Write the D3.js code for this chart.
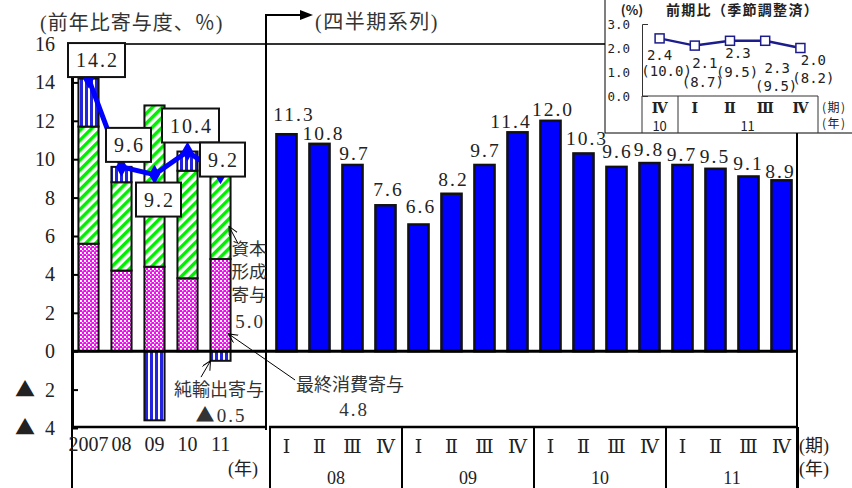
<!DOCTYPE html>
<html><head><meta charset="utf-8">
<script src="https://cdn.jsdelivr.net/npm/d3@7"></script>
<style>body{margin:0;background:#fff}svg{display:block}</style>
</head><body><svg id="c" width="852" height="488"></svg>
<script>
// ---- data ----
const years = ["2007", "08", "09", "10", "11"];
const consumption = [5.6, 4.2, 4.4, 3.8, 4.8];
const capital = [6.1, 4.6, 8.4, 5.6, 5.0];
const netExports = [2.5, 0.8, -3.6, 1.0, -0.5];
const totalGrowth = [14.2, 9.6, 9.2, 10.4, 9.2];
const quarters = ["Ⅰ", "Ⅱ", "Ⅲ", "Ⅳ"];
const quarterYears = ["08", "09", "10", "11"];
const quarterlyGrowth = [11.3, 10.8, 9.7, 7.6, 6.6, 8.2, 9.7, 11.4, 12.0, 10.3, 9.6, 9.8, 9.7, 9.5, 9.1, 8.9];
const yTicks = [-4, -2, 0, 2, 4, 6, 8, 10, 12, 14, 16];
const insetQuarters = ["Ⅳ", "Ⅰ", "Ⅱ", "Ⅲ", "Ⅳ"];
const insetYears = ["10", "11"];
const insetQoQ = [2.4, 2.1, 2.3, 2.3, 2.0];
const insetYoY = [10.0, 8.7, 9.5, 9.5, 8.2];
const insetTicks = [0, 1, 2, 3];

// ---- layout (label placement, not data) ----
const qLabelGap = [13, 4, 5, 9, 11, 8, 8, 4, 5, 8, 9, 7, 4, 6, 6, 2];
const qLabelDx = [6.5, 3, 1, 2, 1.5, 1, 0, -7.5, 1.5, 2.5, 0, -1.5, -1.5, -1.5, -1, -2];

const SERIF = "'Liberation Serif','DejaVu Serif','Noto Sans CJK JP',serif";
const MONO = "'DejaVu Sans Mono','Noto Sans CJK JP',monospace";
const SANS = "'Noto Sans CJK JP','DejaVu Sans',sans-serif";
const svg = d3.select("#c");
const defs = svg.append("defs");

// patterns
const pk = defs.append("pattern").attr("id", "pinkChk").attr("patternUnits", "userSpaceOnUse").attr("width", 4).attr("height", 4);
pk.append("rect").attr("width", 4).attr("height", 4).attr("fill", "#ff00ff");
pk.append("rect").attr("x", 0).attr("y", 0).attr("width", 2).attr("height", 2).attr("fill", "#fff");
pk.append("rect").attr("x", 2).attr("y", 2).attr("width", 1.4).attr("height", 1.4).attr("fill", "#fff");
const gh = defs.append("pattern").attr("id", "greenHatch").attr("patternUnits", "userSpaceOnUse").attr("width", 7).attr("height", 7).attr("patternTransform", "rotate(45)");
gh.append("rect").attr("width", 7).attr("height", 7).attr("fill", "#fff");
gh.append("rect").attr("width", 3.5).attr("height", 7).attr("fill", "#00ee00");
const bs = defs.append("pattern").attr("id", "blueStripe").attr("patternUnits", "userSpaceOnUse").attr("width", 5).attr("height", 5);
bs.append("rect").attr("width", 5).attr("height", 5).attr("fill", "#fff");
bs.append("rect").attr("width", 3).attr("height", 5).attr("fill", "#2424dd");
defs.append("marker").attr("id", "openArrow").attr("markerUnits", "userSpaceOnUse")
  .attr("markerWidth", 12).attr("markerHeight", 12).attr("refX", 9).attr("refY", 4.5).attr("orient", "auto")
  .append("path").attr("d", "M0,0L9,4.5L0,9").attr("fill", "none").attr("stroke", "#000").attr("stroke-width", 1);

const y = d3.scaleLinear().domain([-4, 16]).range([428, 44]);
const xY = d3.scaleBand().domain(years).range([72, 237]).paddingInner(0.39).paddingOuter(0.195);
const qKeys = quarterYears.flatMap(yy => quarters.map((q, i) => yy + "-" + i));
const xQ = d3.scaleBand().domain(qKeys).range([270, 798]).paddingInner(0.39).paddingOuter(0.195);
const bwY = xY.bandwidth(), bwQ = xQ.bandwidth();

// helper: text with a CJK-font triangle
function triText(sel, num) {
  sel.append("tspan").attr("font-family", SANS).text("▲");
  sel.append("tspan").text(num);
}

// frame lines
svg.append("line").attr("x1", 72).attr("x2", 852).attr("y1", 44).attr("y2", 44).attr("stroke", "#333").attr("stroke-width", 2);
svg.append("line").attr("x1", 797).attr("x2", 797).attr("y1", 44).attr("y2", 488).attr("stroke", "#000").attr("stroke-width", 2);
svg.append("line").attr("x1", 72).attr("x2", 72).attr("y1", 427).attr("y2", 488).attr("stroke", "#000").attr("stroke-width", 2);
svg.append("line").attr("x1", 72).attr("x2", 266).attr("y1", 427).attr("y2", 427).attr("stroke", "#000").attr("stroke-width", 2.5);
svg.append("line").attr("x1", 269).attr("x2", 797).attr("y1", 427).attr("y2", 427).attr("stroke", "#000").attr("stroke-width", 2.5);
const qDiv = quarterYears.map(yy => xQ(yy + "-0") - xQ.step() * xQ.paddingOuter());
qDiv.push(798);
svg.append("g").selectAll("line").data(qDiv).join("line")
  .attr("x1", d => d).attr("x2", d => d).attr("y1", 427).attr("y2", 488).attr("stroke", "#000").attr("stroke-width", 2);
svg.append("path").attr("d", "M266,430V15H301").attr("fill", "none").attr("stroke", "#000").attr("stroke-width", 2);
svg.append("path").attr("d", "M300,10L313,15L300,20Z").attr("fill", "#000");
svg.append("text").attr("x", 315).attr("y", 29).attr("font-family", SERIF).attr("font-size", 20).attr("letter-spacing", 1.5).attr("fill", "#333").text("(四半期系列)");
svg.append("text").attr("x", 40).attr("y", 30).attr("font-family", SERIF).attr("font-size", 20).attr("letter-spacing", 1).attr("fill", "#333").text("(前年比寄与度、％)");

// annual stacked bars
const annual = years.map((yr, i) => ({ yr, c: consumption[i], k: capital[i], n: netExports[i], t: totalGrowth[i] }));
const segs = [];
annual.forEach(d => {
  segs.push({ yr: d.yr, y0: 0, y1: d.c, fill: "url(#pinkChk)" });
  segs.push({ yr: d.yr, y0: d.c, y1: d.c + d.k, fill: "url(#greenHatch)" });
  if (d.n >= 0) segs.push({ yr: d.yr, y0: d.c + d.k, y1: d.c + d.k + d.n, fill: "url(#blueStripe)" });
  else segs.push({ yr: d.yr, y0: d.n, y1: 0, fill: "url(#blueStripe)" });
});
svg.append("g").selectAll("rect").data(segs).join("rect")
  .attr("x", d => xY(d.yr)).attr("width", bwY)
  .attr("y", d => y(d.y1)).attr("height", d => y(d.y0) - y(d.y1))
  .attr("fill", d => d.fill).attr("stroke", "#111").attr("stroke-width", 2);

// quarterly bars
const qData = qKeys.map((k, i) => ({ k, i, v: quarterlyGrowth[i] }));
svg.append("g").selectAll("rect").data(qData).join("rect")
  .attr("x", d => xQ(d.k)).attr("width", bwQ)
  .attr("y", d => y(d.v)).attr("height", d => y(0) - y(d.v))
  .attr("fill", "#0000ff").attr("stroke", "#111").attr("stroke-width", 2.5);
svg.append("g").selectAll("text").data(qData).join("text")
  .attr("x", d => xQ(d.k) + bwQ / 2 + 1 + qLabelDx[d.i]).attr("y", d => y(d.v) - qLabelGap[d.i])
  .attr("text-anchor", "middle").attr("font-family", SERIF).attr("font-size", 19.5).attr("letter-spacing", 2)
  .attr("fill", "#222").text(d => d.v.toFixed(1));

// zero line
svg.append("line").attr("x1", 72).attr("x2", 797).attr("y1", y(0)).attr("y2", y(0)).attr("stroke", "#000").attr("stroke-width", 3);

// y axis
const yAxis = svg.append("g").attr("transform", "translate(72,0)")
  .call(d3.axisLeft(y).tickValues(yTicks).tickSizeInner(-6).tickSizeOuter(0).tickPadding(17)
    .tickFormat(v => String(Math.abs(v))));
yAxis.select(".domain").attr("stroke", "#000").attr("stroke-width", 3);
yAxis.selectAll(".tick line").attr("stroke", "#000").attr("stroke-width", 2);
yAxis.selectAll("text").attr("font-family", SERIF).attr("font-size", 20).attr("fill", "#222");
yAxis.selectAll(".tick text").each(function (v) {
  if (v < 0) { const t = d3.select(this); t.text(null); triText(t, "\u00a0\u00a0" + (-v)); }
});

// annual x axis
const xAxY = svg.append("g").attr("transform", "translate(0,427)").call(d3.axisBottom(xY).tickSize(0).tickPadding(10));
xAxY.select(".domain").remove();
xAxY.selectAll("text").attr("font-family", SERIF).attr("font-size", 20).attr("fill", "#222");
svg.append("text").attr("x", 258).attr("y", 475).attr("text-anchor", "end").attr("font-family", SERIF).attr("font-size", 18).attr("fill", "#222").text("(年)");

// quarterly x axis
const xAxQ = svg.append("g").attr("transform", "translate(0,427)")
  .call(d3.axisBottom(xQ).tickSize(0).tickPadding(13).tickFormat(k => quarters[+k.split("-")[1]]));
xAxQ.select(".domain").remove();
xAxQ.selectAll("text").attr("font-family", SERIF).attr("font-size", 19).attr("fill", "#222");
svg.append("g").selectAll("text").data(quarterYears).join("text")
  .attr("x", yy => xQ(yy + "-0") - xQ.step() * xQ.paddingOuter() + 2 * xQ.step())
  .attr("y", 484).attr("text-anchor", "middle").attr("font-family", SERIF).attr("font-size", 18).attr("fill", "#222").text(yy => yy);
svg.append("text").attr("x", 799).attr("y", 452).attr("font-family", SERIF).attr("font-size", 18).attr("fill", "#222").text("(期)");
svg.append("text").attr("x", 799).attr("y", 475).attr("font-family", SERIF).attr("font-size", 18).attr("fill", "#222").text("(年)");

// total line
const line = d3.line().x(d => xY(d.yr) + bwY / 2).y(d => y(d.t));
svg.append("path").datum(annual).attr("d", line).attr("fill", "none").attr("stroke", "#0000ff").attr("stroke-width", 5);
svg.append("g").selectAll("path").data(annual).join("path")
  .attr("transform", d => `translate(${xY(d.yr) + bwY / 2},${y(d.t)})`)
  .attr("d", d3.symbol(d3.symbolDiamond, 110)).attr("fill", "#0000ff");

// total label boxes (offsets from the point)
const boxOffsets = [[8, -18.5], [7, -22], [4, 25], [3, -26], [2, -15]];
annual.forEach((d, i) => {
  const g = svg.append("g").attr("transform", `translate(${xY(d.yr) + bwY / 2 + boxOffsets[i][0]},${y(d.t) + boxOffsets[i][1]})`);
  const r = g.append("rect");
  const t = g.append("text").attr("x", 1).attr("y", 7).attr("text-anchor", "middle")
    .attr("font-family", SERIF).attr("font-size", 20).attr("letter-spacing", 2).attr("fill", "#222").text(d.t.toFixed(1));
  const w = t.node().getComputedTextLength() + 14;
  r.attr("x", -w / 2).attr("y", -17).attr("width", w).attr("height", 34).attr("fill", "#fff").attr("stroke", "#111").attr("stroke-width", 2);
});

// annotations
const x11 = xY("11");
const ann = svg.append("g").attr("fill", "#333").attr("font-family", SERIF);
svg.append("line").attr("x1", x11 + bwY + 7.5).attr("y1", y(5.6)).attr("x2", x11 + bwY - 1.5).attr("y2", y(6.5))
  .attr("stroke", "#000").attr("stroke-width", 1).attr("marker-end", "url(#openArrow)");
svg.append("line").attr("x1", x11 + bwY / 2 - 19.5).attr("y1", y(-1.35)).attr("x2", x11 + bwY / 2 - 10).attr("y2", y(-0.5))
  .attr("stroke", "#000").attr("stroke-width", 1).attr("marker-end", "url(#openArrow)");
svg.append("line").attr("x1", x11 + bwY + 64.5).attr("y1", y(-1.5)).attr("x2", x11 + bwY - 2).attr("y2", y(0.9))
  .attr("stroke", "#000").attr("stroke-width", 1).attr("marker-end", "url(#openArrow)");
const capLines = ["資本", "形成", "寄与"];
capLines.forEach((s, i) => ann.append("text").attr("x", 249).attr("y", 255 + i * 23).attr("text-anchor", "middle").attr("font-size", 17.5).text(s));
ann.append("text").attr("x", 250).attr("y", 328).attr("text-anchor", "middle").attr("font-size", 19).attr("letter-spacing", 2).text(capital[4].toFixed(1));
ann.append("text").attr("x", 219).attr("y", 396).attr("text-anchor", "middle").attr("font-size", 18).text("純輸出寄与");
const nxT = ann.append("text").attr("x", 221).attr("y", 422).attr("text-anchor", "middle").attr("font-size", 19).attr("letter-spacing", 2);
triText(nxT, (-netExports[4]).toFixed(1));
ann.append("text").attr("x", 350).attr("y", 391).attr("text-anchor", "middle").attr("font-size", 18).text("最終消費寄与");
ann.append("text").attr("x", 354).attr("y", 416).attr("text-anchor", "middle").attr("font-size", 19).attr("letter-spacing", 2).text(consumption[4].toFixed(1));

// ---- inset ----
const ins = svg.append("g");
ins.append("rect").attr("x", 605).attr("y", -1).attr("width", 250).attr("height", 134).attr("fill", "#fff").attr("stroke", "#000").attr("stroke-width", 1);
const iy = d3.scaleLinear().domain([0, 3]).range([96, 24]);
const ix = d3.scaleBand().domain(d3.range(insetQoQ.length)).range([642, 818]);
ins.append("text").attr("x", 632).attr("y", 15).attr("text-anchor", "middle").attr("font-family", SANS).attr("font-size", 13).attr("font-weight", "bold").attr("fill", "#222").text("(%)");
ins.append("text").attr("x", 666).attr("y", 15).attr("font-family", SANS).attr("font-size", 14).attr("font-weight", "bold").attr("letter-spacing", 1.3).attr("fill", "#222").text("前期比（季節調整済）");
const iax = ins.append("g").attr("transform", "translate(642,0)")
  .call(d3.axisLeft(iy).tickValues(insetTicks).tickSizeInner(0).tickSizeOuter(-6).tickPadding(12).tickFormat(d3.format(".1f")));
iax.select(".domain").attr("stroke", "#333").attr("stroke-width", 1);
iax.selectAll("text").attr("font-family", MONO).attr("font-size", 12.5).attr("fill", "#222");
ins.append("path").attr("d", "M642,96H818M642,96V133M678,96V133M818,96V133").attr("stroke", "#333").attr("stroke-width", 1).attr("fill", "none");
ins.append("g").selectAll("text").data(insetQuarters).join("text")
  .attr("x", (d, i) => ix(i) + ix.bandwidth() / 2).attr("y", 113).attr("text-anchor", "middle")
  .attr("font-family", SERIF).attr("font-weight", "bold").attr("font-size", 14).attr("fill", "#222").text(d => d);
ins.append("text").attr("x", ix(0) + ix.bandwidth() / 2).attr("y", 131).attr("text-anchor", "middle").attr("font-family", SANS).attr("font-size", 13).attr("fill", "#222").text(insetYears[0]);
ins.append("text").attr("x", (ix(1) + 818) / 2).attr("y", 131).attr("text-anchor", "middle").attr("font-family", SANS).attr("font-size", 13).attr("fill", "#222").text(insetYears[1]);
ins.append("text").attr("x", 822).attr("y", 112).attr("font-family", SANS).attr("font-size", 12).attr("letter-spacing", 1.5).attr("fill", "#222").text("(期)");
ins.append("text").attr("x", 822).attr("y", 128).attr("font-family", SANS).attr("font-size", 12).attr("letter-spacing", 1.5).attr("fill", "#222").text("(年)");
const iData = insetQoQ.map((v, i) => ({ i, v, yoy: insetYoY[i] }));
ins.append("path").datum(iData).attr("d", d3.line().x(d => ix(d.i) + ix.bandwidth() / 2).y(d => iy(d.v)))
  .attr("fill", "none").attr("stroke", "#1c1c8c").attr("stroke-width", 2.5);
ins.append("g").selectAll("rect").data(iData).join("rect")
  .attr("x", d => ix(d.i) + ix.bandwidth() / 2 - 4.5).attr("y", d => iy(d.v) - 4.5).attr("width", 9).attr("height", 9)
  .attr("fill", "#fff").attr("stroke", "#1c1c8c").attr("stroke-width", 1.5);
const qoqOff = [[0, 16.6], [10, 17.4], [8, 12.2], [12, 27.2], [13, 12]];
const yoyOff = [[7, 32.6], [8, 36.4], [7, 31.2], [11, 45.2], [13, 30]];
ins.append("g").selectAll("text").data(iData).join("text")
  .attr("x", d => ix(d.i) + ix.bandwidth() / 2 + qoqOff[d.i][0]).attr("y", d => iy(d.v) + qoqOff[d.i][1] + 5)
  .attr("text-anchor", "middle").attr("font-family", MONO).attr("font-size", 14).attr("fill", "#222").text(d => d.v.toFixed(1));
ins.append("g").selectAll("text").data(iData).join("text")
  .attr("x", d => ix(d.i) + ix.bandwidth() / 2 + yoyOff[d.i][0]).attr("y", d => iy(d.v) + yoyOff[d.i][1] + 5)
  .attr("text-anchor", "middle").attr("font-family", MONO).attr("font-size", 14).attr("fill", "#222").text(d => "(" + d.yoy.toFixed(1) + ")");
</script></body></html>
